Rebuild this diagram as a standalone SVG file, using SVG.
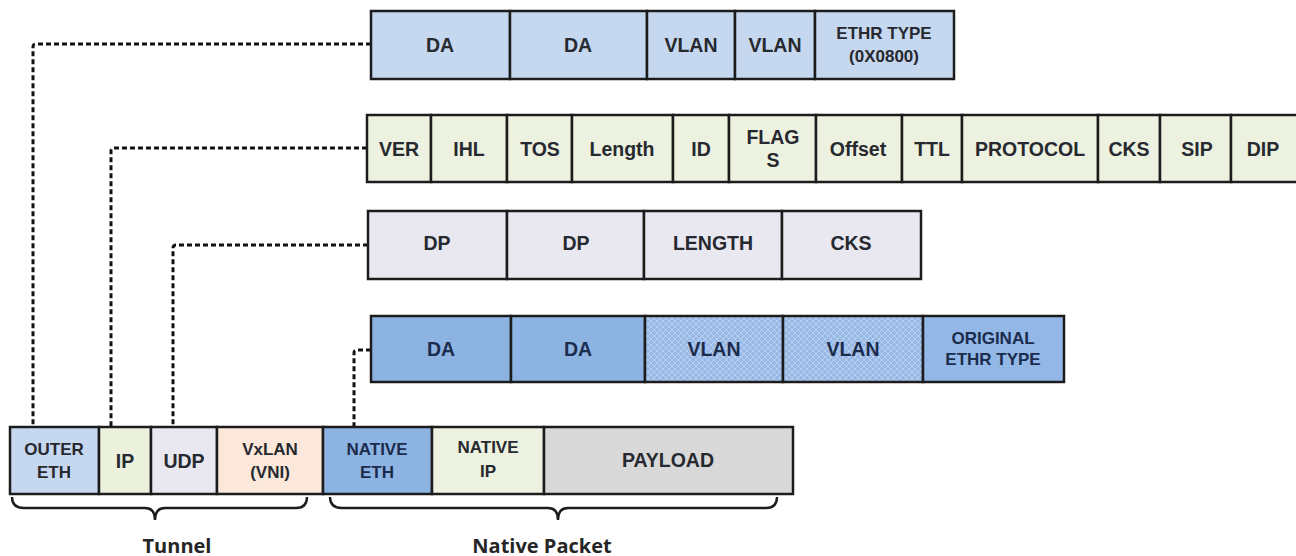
<svg xmlns="http://www.w3.org/2000/svg" width="1296" height="556" viewBox="0 0 1296 556">
<defs>
<pattern id="hatch" width="6" height="6" patternUnits="userSpaceOnUse">
<rect width="6" height="6" fill="#98b9e5"/>
<path d="M0,0 L6,6 M6,0 L0,6" stroke="#b9cff0" stroke-width="1"/>
</pattern>
</defs>
<style>
.c{stroke:#1c1c1c;stroke-width:2.5}
.eth{fill:#c6d8ef}
.ip{fill:#edf1e0}
.udp{fill:#e9e7ef}
.nat{fill:#8db3e2}
.vx{fill:#fce8da}
.pay{fill:#d8d8d8}
.hat{fill:url(#hatch)}
text{font-family:"Liberation Sans",Arial,sans-serif;font-weight:bold;text-anchor:middle;dominant-baseline:central;fill:#26292f;font-size:19.5px}
.s{font-size:17px}
.dk{fill:#1b2c4d}
.lbl{font-family:"Open Sans","Liberation Sans",sans-serif;font-size:20px;fill:#262626}
.dash{fill:none;stroke:#121212;stroke-width:3;stroke-dasharray:5 3;stroke-linejoin:round}
.brace{fill:none;stroke:#1c1c1c;stroke-width:2.4}
</style>
<rect width="1296" height="556" fill="#ffffff"/>

<g id="connectors">
<path class="dash" d="M371,44 H36 Q33,44 33,47 V427"/>
<path class="dash" d="M367,148 H114 Q111,148 111,151 V427"/>
<path class="dash" d="M368,245 H176 Q173,245 173,248 V427"/>
<path class="dash" d="M371,350 H357 Q354,350 354,353 V427"/>
</g>

<g id="row-outer-eth">
<g id="r1-da1"><rect class="c eth" x="371" y="11" width="139" height="68"/><text x="440" y="45">DA</text></g>
<g id="r1-da2"><rect class="c eth" x="510" y="11" width="137" height="68"/><text x="578" y="45">DA</text></g>
<g id="r1-vlan1"><rect class="c eth" x="647" y="11" width="88" height="68"/><text x="691" y="45">VLAN</text></g>
<g id="r1-vlan2"><rect class="c eth" x="735" y="11" width="80" height="68"/><text x="775" y="45">VLAN</text></g>
<g id="r1-ethr"><rect class="c eth" x="815" y="11" width="139" height="68"/><text class="s" x="884" y="33">ETHR TYPE</text><text class="s" x="884" y="56">(0X0800)</text></g>
</g>

<g id="row-ip">
<g id="r2-ver"><rect class="c ip" x="367" y="115" width="64" height="67"/><text x="399" y="149">VER</text></g>
<g id="r2-ihl"><rect class="c ip" x="431" y="115" width="76" height="67"/><text x="469" y="149">IHL</text></g>
<g id="r2-tos"><rect class="c ip" x="507" y="115" width="65" height="67"/><text x="540" y="149">TOS</text></g>
<g id="r2-length"><rect class="c ip" x="572" y="115" width="101" height="67"/><text x="622" y="149">Length</text></g>
<g id="r2-id"><rect class="c ip" x="673" y="115" width="56" height="67"/><text x="701" y="149">ID</text></g>
<g id="r2-flags"><rect class="c ip" x="729" y="115" width="87" height="67"/><text x="773" y="137">FLAG</text><text x="773" y="160">S</text></g>
<g id="r2-offset"><rect class="c ip" x="816" y="115" width="86" height="67"/><text x="858" y="149">Offset</text></g>
<g id="r2-ttl"><rect class="c ip" x="902" y="115" width="60" height="67"/><text x="932" y="149">TTL</text></g>
<g id="r2-protocol"><rect class="c ip" x="962" y="115" width="136" height="67"/><text x="1030" y="149">PROTOCOL</text></g>
<g id="r2-cks"><rect class="c ip" x="1098" y="115" width="62" height="67"/><text x="1129" y="149">CKS</text></g>
<g id="r2-sip"><rect class="c ip" x="1160" y="115" width="71" height="67"/><text x="1197" y="149">SIP</text></g>
<g id="r2-dip"><rect class="c ip" x="1231" y="115" width="80" height="67"/><text x="1263" y="149">DIP</text></g>
</g>

<g id="row-udp">
<g id="r3-dp1"><rect class="c udp" x="368" y="211" width="139" height="68"/><text x="437" y="243">DP</text></g>
<g id="r3-dp2"><rect class="c udp" x="507" y="211" width="137" height="68"/><text x="576" y="243">DP</text></g>
<g id="r3-length"><rect class="c udp" x="644" y="211" width="138" height="68"/><text x="713" y="243">LENGTH</text></g>
<g id="r3-cks"><rect class="c udp" x="782" y="211" width="139" height="68"/><text x="851" y="243">CKS</text></g>
</g>

<g id="row-native-eth">
<g id="r4-da1"><rect class="c nat" x="371" y="316" width="140" height="66"/><text class="dk" x="441" y="349">DA</text></g>
<g id="r4-da2"><rect class="c nat" x="511" y="316" width="134" height="66"/><text class="dk" x="578" y="349">DA</text></g>
<g id="r4-vlan1"><rect class="c hat" x="645" y="316" width="138" height="66"/><text class="dk" x="714" y="349">VLAN</text></g>
<g id="r4-vlan2"><rect class="c hat" x="783" y="316" width="140" height="66"/><text class="dk" x="853" y="349">VLAN</text></g>
<g id="r4-orig"><rect class="c" fill="#93b7e6" x="923" y="316" width="141" height="66"/><text class="s dk" x="993" y="338">ORIGINAL</text><text class="s dk" x="993" y="359">ETHR TYPE</text></g>
</g>

<g id="row-packet">
<g id="p-outer-eth"><rect class="c eth" x="10" y="427" width="89" height="67"/><text class="s" x="54" y="449">OUTER</text><text class="s" x="54" y="472">ETH</text></g>
<g id="p-ip"><rect class="c" fill="#ebf1dd" x="99" y="427" width="52" height="67"/><text x="125" y="461">IP</text></g>
<g id="p-udp"><rect class="c udp" x="151" y="427" width="66" height="67"/><text x="184" y="461">UDP</text></g>
<g id="p-vxlan"><rect class="c vx" x="217" y="427" width="106" height="67"/><text class="s" x="270" y="449">VxLAN</text><text class="s" x="270" y="472">(VNI)</text></g>
<g id="p-native-eth"><rect class="c nat" x="323" y="427" width="109" height="67"/><text class="s dk" x="377" y="449">NATIVE</text><text class="s dk" x="377" y="472">ETH</text></g>
<g id="p-native-ip"><rect class="c ip" x="432" y="427" width="112" height="67"/><text class="s" x="488" y="447">NATIVE</text><text class="s" x="488" y="471">IP</text></g>
<g id="p-payload"><rect class="c pay" x="544" y="427" width="249" height="67"/><text x="668" y="460">PAYLOAD</text></g>
</g>

<g id="tunnel-brace">
<path class="brace" d="M12,497 Q12,508 24,508 H145 Q155,508 155,520 Q155,508 165,508 H296 Q307,508 307,497"/>
<text class="lbl" x="177" y="545">Tunnel</text>
</g>
<g id="native-brace">
<path class="brace" d="M330,497 Q330,508 342,508 H548 Q558,508 558,520 Q558,508 568,508 H766 Q777,508 777,497"/>
<text class="lbl" x="542" y="545">Native Packet</text>
</g>
</svg>
